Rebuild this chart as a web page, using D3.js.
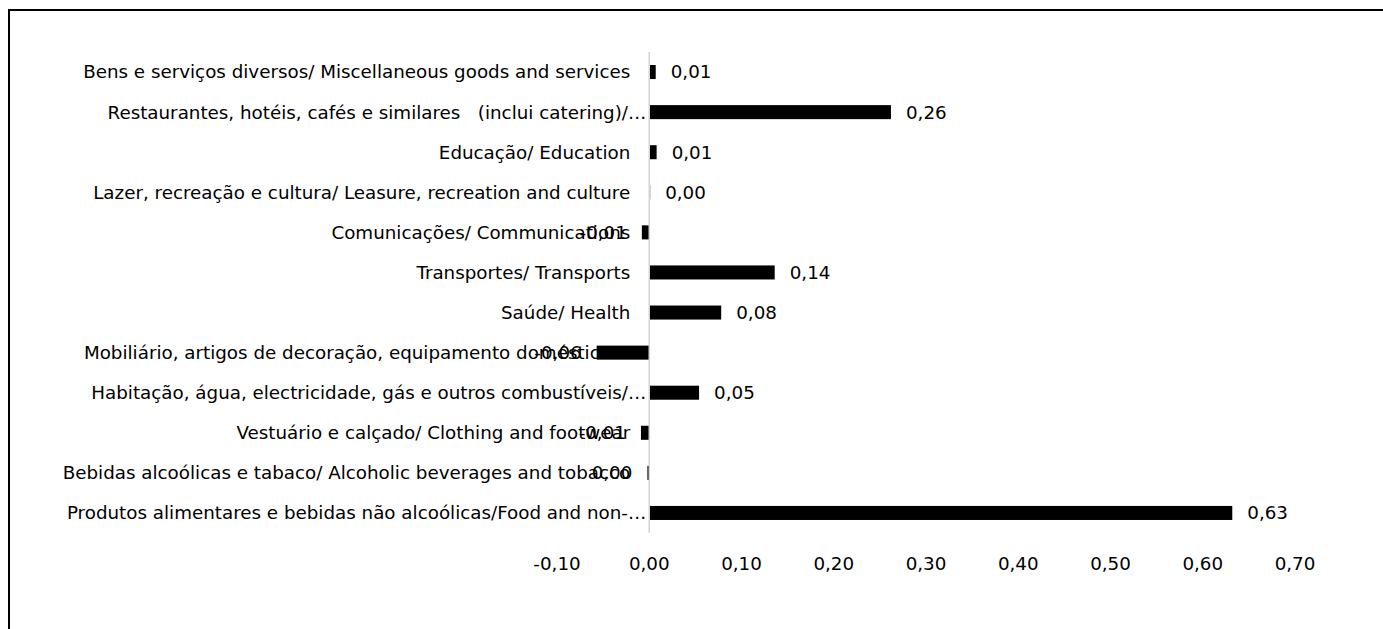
<!DOCTYPE html>
<html>
<head>
<meta charset="utf-8">
<script src="https://cdn.jsdelivr.net/npm/d3@7"></script>
<style>
  body { margin: 0; background: #fff; }
  svg text { font-family: Tahoma, "DejaVu Sans", sans-serif; white-space: pre; }
</style>
</head>
<body>
<div id="chartContainer"></div>
<script>
// Categories, top to bottom as shown
const categories = [
  "Bens e serviços diversos/ Miscellaneous goods and services",
  "Restaurantes, hotéis, cafés e similares   (inclui catering)/…",
  "Educação/ Education",
  "Lazer, recreação e cultura/ Leasure, recreation and culture",
  "Comunicações/ Communications",
  "Transportes/ Transports",
  "Saúde/ Health",
  "Mobiliário, artigos de decoração, equipamento doméstico e…",
  "Habitação, água, electricidade, gás e outros combustíveis/…",
  "Vestuário e calçado/ Clothing and footwear",
  "Bebidas alcoólicas e tabaco/ Alcoholic beverages and tobacco",
  "Produtos alimentares e bebidas não alcoólicas/Food and non-…"
];
const values = [0.007, 0.262, 0.008, 0.001, -0.008, 0.136, 0.078, -0.057, 0.054, -0.009, -0.002, 0.632];
const xTicks = [-0.1, 0, 0.1, 0.2, 0.3, 0.4, 0.5, 0.6, 0.7];

const W = 1383, H = 629;
const margin = {top: 52, left: 557, right: 88, bottom: 96};

// Excel-style number format: comma decimal, hyphen minus
const locale = d3.formatLocale({decimal: ",", thousands: ".", grouping: [3], currency: ["", ""], minus: "-"});
const fmt = locale.format(".2f");

const svg = d3.select("#chartContainer").append("svg")
  .attr("width", W)
  .attr("height", H);

// Outer chart frame (runs past the window edges)
svg.append("rect")
  .attr("x", 9).attr("y", 10)
  .attr("width", W + 20).attr("height", H + 20)
  .attr("fill", "none")
  .attr("stroke", "#000")
  .attr("stroke-width", 2);

const x = d3.scaleLinear().domain([-0.1, 0.7]).range([margin.left, W - margin.right]);
const y = d3.scaleBand().domain(categories).range([margin.top, H - margin.bottom]).paddingInner(0.65).paddingOuter(0.325);

const fontSize = 18.3;

// Category labels
svg.append("g").selectAll("text")
  .data(categories)
  .join("text")
  .attr("x", d => d.endsWith("…") ? x(0) - 3 : x(0) - 19)
  .attr("y", d => y(d) + y.bandwidth() / 2)
  .attr("dy", "0.35em")
  .attr("text-anchor", "end")
  .attr("font-size", fontSize)
  .attr("fill", "#000")
  .text(d => d);

// Bars
svg.append("g").selectAll("rect")
  .data(values)
  .join("rect")
  .attr("x", d => x(Math.min(0, d)))
  .attr("y", (d, i) => y(categories[i]))
  .attr("width", d => Math.abs(x(d) - x(0)))
  .attr("height", y.bandwidth())
  .attr("fill", "#000");

// Zero axis line
svg.append("line")
  .attr("x1", x(0)).attr("x2", x(0))
  .attr("y1", margin.top).attr("y2", H - margin.bottom)
  .attr("stroke", "#d4d4d4")
  .attr("stroke-width", 1.5);

// Value labels
svg.append("g").selectAll("text")
  .data(values)
  .join("text")
  .attr("x", d => d < 0 ? x(d) - 15 : x(d) + 15)
  .attr("y", (d, i) => y(categories[i]) + y.bandwidth() / 2)
  .attr("dy", "0.35em")
  .attr("text-anchor", d => d < 0 ? "end" : "start")
  .attr("font-size", fontSize)
  .attr("fill", "#000")
  .text(d => fmt(d));

// X axis tick labels
svg.append("g").selectAll("text")
  .data(xTicks)
  .join("text")
  .attr("x", d => x(d))
  .attr("y", H - margin.bottom + 31)
  .attr("dy", "0.35em")
  .attr("text-anchor", "middle")
  .attr("font-size", fontSize)
  .attr("fill", "#000")
  .text(d => fmt(d));
</script>
</body>
</html>
